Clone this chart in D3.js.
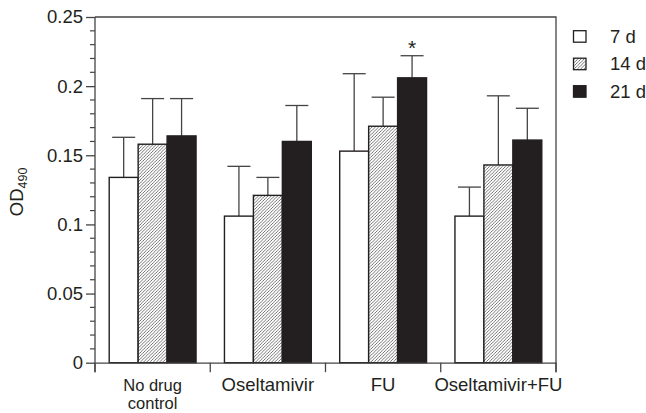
<!DOCTYPE html>
<html><head><meta charset="utf-8">
<script src="https://cdn.jsdelivr.net/npm/d3@7"></script>
<style>body{margin:0;background:#fff}svg{display:block;font-family:"Liberation Sans",Arial,sans-serif}</style>
</head><body><svg id="c" width="646" height="413"></svg>
<script>
const categories = ["No drug control","Oseltamivir","FU","Oseltamivir+FU"];
const series = ["7 d","14 d","21 d"];
const means = {
  "7 d":  [0.134, 0.106, 0.153, 0.106],
  "14 d": [0.158, 0.121, 0.171, 0.143],
  "21 d": [0.164, 0.160, 0.206, 0.161]
};
const errors = {
  "7 d":  [0.029, 0.036, 0.056, 0.021],
  "14 d": [0.033, 0.013, 0.021, 0.050],
  "21 d": [0.027, 0.026, 0.016, 0.023]
};
const yTicks = [0, 0.05, 0.1, 0.15, 0.2, 0.25];
const yTickLabels = ["0","0.05","0.1","0.15","0.2","0.25"];
const significant = [{cat:"FU", s:"21 d", mark:"*"}];

const svg = d3.select("#c");
const pL = 95, pR = 556, pT = 17, pB = 362.7;
const FS = 18.5;
const y = d3.scaleLinear().domain([0,0.25]).range([pB, pT]);
const x0 = d3.scaleBand().domain(categories).range([pL, pR]).padding(0);
const bw = x0.bandwidth();
const x1 = d3.scaleBand().domain(series).range([14.2, bw - 14.2]).padding(0);

const defs = svg.append("defs");
const pat = defs.append("pattern").attr("id","hatch").attr("patternUnits","userSpaceOnUse")
  .attr("width",3.2).attr("height",3.2);
pat.append("rect").attr("width",3.2).attr("height",3.2).attr("fill","#fff");
pat.append("path").attr("d","M-0.8,0.8 l1.6,-1.6 M0,3.2 l3.2,-3.2 M2.4,4 l1.6,-1.6")
  .attr("stroke","#3a3a3a").attr("stroke-width",0.7);

const fills = {"7 d":"#fff","14 d":"url(#hatch)","21 d":"#231f20"};
const stroke = "#231f20";

// frame top and right
svg.append("path").attr("d",`M${pL},${pT}H${pR}V${pB+9.5}`)
  .attr("fill","none").attr("stroke","#444").attr("stroke-width",1.3);

// bars and error bars
const g = svg.append("g");
categories.forEach((c,i)=>{
  series.forEach(s=>{
    const v = means[s][i], e = errors[s][i];
    const bx = x0(c) + x1(s), w = x1.bandwidth();
    const cx = bx + w/2;
    g.append("line").attr("x1",cx).attr("x2",cx).attr("y1",y(v)).attr("y2",y(v+e))
      .attr("stroke","#444").attr("stroke-width",1.3);
    g.append("line").attr("x1",cx-11.5).attr("x2",cx+11.5).attr("y1",y(v+e)).attr("y2",y(v+e))
      .attr("stroke","#444").attr("stroke-width",1.3);
    g.append("rect").attr("x",bx).attr("y",y(v)).attr("width",w).attr("height",y(0)-y(v))
      .attr("fill",fills[s]).attr("stroke",stroke).attr("stroke-width",1.4);
  });
});
significant.forEach(d=>{
  const i = categories.indexOf(d.cat);
  const cx = x0(d.cat)+x1(d.s)+x1.bandwidth()/2;
  const v = means[d.s][i]+errors[d.s][i];
  svg.append("text").attr("x",cx).attr("y",y(v)-0.5).attr("text-anchor","middle")
    .attr("font-size",21).attr("fill","#231f20").text(d.mark);
});

// y axis
const yAxis = d3.axisLeft(y).tickValues(yTicks).tickSize(9).tickPadding(3)
  .tickFormat((d,i)=>yTickLabels[i]);
const ya = svg.append("g").attr("transform",`translate(${pL},0)`).call(yAxis);
ya.select(".domain").remove();
ya.selectAll(".tick line").attr("stroke","#444").attr("stroke-width",1.3);
ya.selectAll("text").attr("font-size",FS).attr("fill","#231f20").attr("font-family","Liberation Sans, Arial");
const minor = d3.range(0, 0.2501, 0.01).filter(v=>Math.abs(v*20-Math.round(v*20))>1e-6);
svg.append("g").selectAll("line").data(minor).join("line")
  .attr("x1",pL-5).attr("x2",pL).attr("y1",d=>y(d)).attr("y2",d=>y(d))
  .attr("stroke","#444").attr("stroke-width",1.2);
svg.append("line").attr("x1",pL).attr("x2",pL).attr("y1",pT).attr("y2",pB+9.5)
  .attr("stroke","#444").attr("stroke-width",1.3);

// x axis
const xAxis = d3.axisBottom(x0).tickSize(0).tickFormat("");
const xa = svg.append("g").attr("transform",`translate(0,${pB})`).call(xAxis);
xa.select(".domain").attr("stroke","#444").attr("stroke-width",1.3);
const bounds = categories.map(c=>x0(c)).concat([pR]);
svg.append("g").selectAll("line").data(bounds).join("line")
  .attr("x1",d=>d).attr("x2",d=>d).attr("y1",pB).attr("y2",pB+9.5)
  .attr("stroke","#444").attr("stroke-width",1.3);
const labelLines = {"No drug control":["No drug","control"]};
categories.forEach(c=>{
  const lines = labelLines[c] || [c];
  const fs = lines.length > 1 ? 16.5 : FS;
  lines.forEach((l,k)=>svg.append("text").attr("x",x0(c)+bw/2).attr("y",390.5 + k*18.5)
    .attr("text-anchor","middle").attr("font-size",fs).attr("fill","#231f20").text(l));
});

// y label
const yl = svg.append("text").attr("transform",`translate(23,${(pT+pB)/2+2}) rotate(-90)`)
  .attr("text-anchor","middle").attr("font-size",FS).attr("fill","#231f20");
yl.append("tspan").text("OD");
yl.append("tspan").attr("font-size",12.5).attr("dy",4).text("490");

// legend
const lg = svg.append("g");
series.forEach((s,k)=>{
  const ly = 30.7 + k*27.5;
  lg.append("rect").attr("x",573.5).attr("y",ly).attr("width",12.5).attr("height",11.5)
    .attr("fill",fills[s]).attr("stroke",stroke).attr("stroke-width",1.3);
  lg.append("text").attr("x",610).attr("y",ly+12).attr("font-size",FS).attr("fill","#231f20").text(s);
});
</script></body></html>
